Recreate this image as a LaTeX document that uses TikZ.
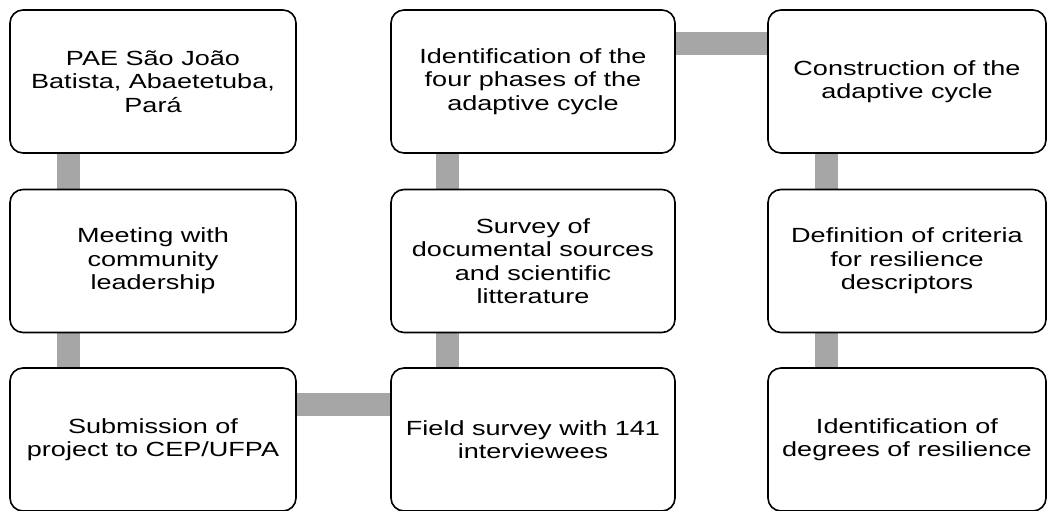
\documentclass[tikz,border=0pt]{standalone}
\usepackage{fontspec}
\setmainfont{Liberation Sans}[FakeStretch=1.32]
\usetikzlibrary{backgrounds}
\begin{document}
\begin{tikzpicture}[x=1pt,y=-1pt,
  box/.style={draw=black, line width=1.6pt, rounded corners=13pt, fill=white,
    align=center, inner sep=0pt, font=\fontsize{20.5}{23.5}\selectfont,
    minimum height=143pt},
  conn/.style={draw=gray!70, line width=23pt}]
\useasboundingbox (0,0) rectangle (1047,511);
\node[box, minimum width=286pt] (a1) at (153,81.5) {PAE São João\\Batista, Abaetetuba,\\Pará};
\node[box, minimum width=286pt] (a2) at (153,261) {Meeting with\\community\\leadership};
\node[box, minimum width=286pt] (a3) at (153,439.5) {Submission of\\project to CEP/UFPA};
\node[box, minimum width=284pt] (b3) at (533,439.5) {Field survey with 141\\interviewees};
\node[box, minimum width=284pt] (b2) at (533,261) {Survey of\\documental sources\\and scientific\\litterature};
\node[box, minimum width=284pt] (b1) at (533,81.5) {Identification of the\\four phases of the\\adaptive cycle};
\node[box, minimum width=278pt] (c1) at (907,81.5) {Construction of the\\adaptive cycle};
\node[box, minimum width=278pt] (c2) at (907,261) {Definition of criteria\\for resilience\\descriptors};
\node[box, minimum width=278pt] (c3) at (907,439.5) {Identification of\\degrees of resilience};
\begin{scope}[on background layer]
\draw[conn] ([xshift=-85pt]a1.south) -- ([xshift=-85pt]a2.north);
\draw[conn] ([xshift=-85pt]a2.south) -- ([xshift=-85pt]a3.north);
\draw[conn] ([yshift=35pt]a3.east) -- ([yshift=35pt]b3.west);
\draw[conn] ([xshift=-86pt]b3.north) -- ([xshift=-86pt]b2.south);
\draw[conn] ([xshift=-86pt]b2.north) -- ([xshift=-86pt]b1.south);
\draw[conn] ([yshift=37.5pt]b1.east) -- ([yshift=37.5pt]c1.west);
\draw[conn] ([xshift=-81pt]c1.south) -- ([xshift=-81pt]c2.north);
\draw[conn] ([xshift=-81pt]c2.south) -- ([xshift=-81pt]c3.north);
\end{scope}
\end{tikzpicture}
\end{document}
